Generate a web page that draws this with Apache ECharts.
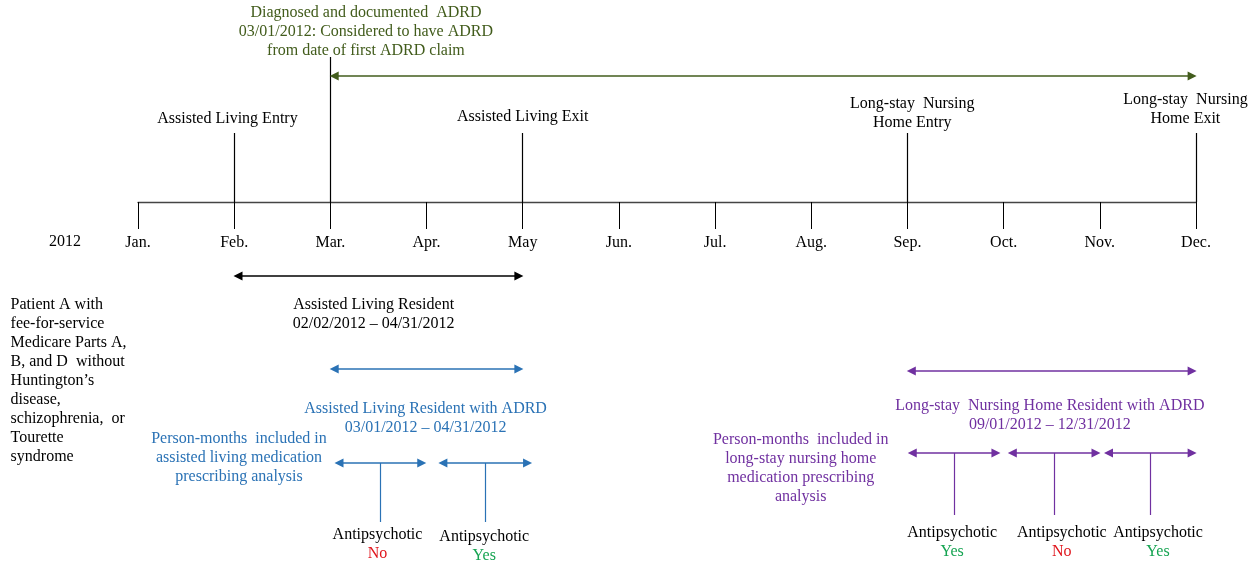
<!DOCTYPE html>
<html>
<head>
<meta charset="utf-8">
<script src="https://cdn.jsdelivr.net/npm/echarts@6/dist/echarts.min.js"></script>
<style>
  html, body { margin: 0; padding: 0; background: #fff; }
  #chart { width: 1257px; height: 567px; }
</style>
</head>
<body>
<div id="chart"></div>
<script>
// timeline data (month index: Jan = 0 ... Dec = 11)
const months = ['Jan.', 'Feb.', 'Mar.', 'Apr.', 'May', 'Jun.', 'Jul.', 'Aug.', 'Sep.', 'Oct.', 'Nov.', 'Dec.'];
const yearLabel = '2012';

const eventLabels = ['Assisted Living Entry', 'Assisted Living Exit', 'Long-stay  Nursing\nHome Entry', 'Long-stay  Nursing\nHome Exit'];
const eventMonths = [1, 4, 8, 11];

const diagnosisMonth = 2;
const followUpEnd = 11;
const diagnosisText = 'Diagnosed and documented  ADRD\n03/01/2012: Considered to have ADRD\nfrom date of first ADRD claim';

const patientText = 'Patient A with\nfee-for-service\nMedicare Parts A,\nB, and D  without\nHuntington\u2019s\ndisease,\nschizophrenia,  or\nTourette\nsyndrome';

const periodLabels = [
  'Assisted Living Resident\n02/02/2012 \u2013 04/31/2012',
  'Assisted Living Resident with ADRD\n03/01/2012 \u2013 04/31/2012',
  'Long-stay  Nursing Home Resident with ADRD\n09/01/2012 \u2013 12/31/2012'
];
const periodStart = [1, 2, 8];
const periodEnd = [4, 4, 11];

const alMonthsLabel = 'Person-months  included in\nassisted living medication\nprescribing analysis';
const alStart = [2.05, 3.13];
const alEnd = [2.99, 4.09];
const alAntipsychotic = ['No', 'Yes'];

const nhMonthsLabel = 'Person-months  included in\nlong-stay nursing home\nmedication prescribing\nanalysis';
const nhStart = [8.01, 9.05, 10.05];
const nhEnd = [8.96, 10.0, 11.0];
const nhAntipsychotic = ['Yes', 'No', 'Yes'];

// layout (vertical positions, in pixel-like units of the hidden y axis)
const FONT = '"Liberation Serif", "Times New Roman", serif';
const FS = 16;
const LH = 19;
const col = {
  black: '#000', axis: '#444', green: '#425C1C', blue: '#2A72B5',
  purple: '#7030A0', red: '#E0141B', yes: '#16A452'
};
const Y = {
  diagText: 32, diagArrow: 76, diagTop: 57, eventTop: 133, axis: 202,
  eventText: [119, 117, 113, 109], year: 242,
  periodArrow: [276, 369, 371], periodText: [314, 418, 415],
  patient: 381, alMonths: 458, nhMonths: 468,
  alArrow: 463, alStemEnd: 522, alText: 535,
  nhArrow: 453, nhStemEnd: 515, nhText: 533
};
const eventDx = [-0.07, 0, 0.05, -0.11];
const periodDx = [-0.05, -0.01, -0.02];
const tipInset = 0.04; // arrow heads are centred on the end point; pull them in so the tip lands on it

function textItem(x, y, text, color, align) {
  return {
    value: [x, y],
    label: {
      show: true,
      formatter: text,
      position: align === 'left' ? 'right' : 'inside',
      distance: 0,
      align: align || 'center',
      verticalAlign: 'middle',
      color: color,
      opacity: 1,
      textBorderWidth: 0,
      fontFamily: FONT,
      fontSize: FS,
      lineHeight: LH
    }
  };
}

function arrow(x1, x2, y, color) {
  return { coords: [[x1 + tipInset, y], [x2 - tipInset, y]], lineStyle: { color: color } };
}

function stem(x, y1, y2, color) {
  return { coords: [[x, y1], [x, y2]], lineStyle: { color: color } };
}

const texts = [];
const arrows = [];
const stems = [];

texts.push(textItem(-0.76, Y.year, yearLabel, col.black));
texts.push(textItem(diagnosisMonth + 0.37, Y.diagText, diagnosisText, col.green));
texts.push(textItem(-1.33, Y.patient, patientText, col.black, 'left'));
arrows.push(arrow(diagnosisMonth, followUpEnd, Y.diagArrow, col.green));
stems.push(stem(diagnosisMonth, Y.diagTop, Y.axis, col.black));

eventMonths.forEach(function (m, i) {
  texts.push(textItem(m + eventDx[i], Y.eventText[i], eventLabels[i], col.black));
  stems.push(stem(m, Y.eventTop, Y.axis, col.black));
});

const periodColors = [col.black, col.blue, col.purple];
periodLabels.forEach(function (t, i) {
  arrows.push(arrow(periodStart[i], periodEnd[i], Y.periodArrow[i], periodColors[i]));
  texts.push(textItem((periodStart[i] + periodEnd[i]) / 2 + periodDx[i], Y.periodText[i], t, periodColors[i]));
});

texts.push(textItem(1.05, Y.alMonths, alMonthsLabel, col.blue));
alStart.forEach(function (s, i) {
  const mid = (s + alEnd[i]) / 2;
  arrows.push(arrow(s, alEnd[i], Y.alArrow, col.blue));
  stems.push(stem(mid, Y.alArrow, Y.alStemEnd, col.blue));
  const yes = alAntipsychotic[i] === 'Yes';
  texts.push(textItem(mid - 0.03 + i * 0.02, Y.alText + i * 2, 'Antipsychotic', col.black));
  texts.push(textItem(mid - 0.03 + i * 0.02, Y.alText + 19 + i * 2, alAntipsychotic[i], yes ? col.yes : col.red));
});

texts.push(textItem(6.89, Y.nhMonths, nhMonthsLabel, col.purple));
nhStart.forEach(function (s, i) {
  const mid = (s + nhEnd[i]) / 2;
  arrows.push(arrow(s, nhEnd[i], Y.nhArrow, col.purple));
  stems.push(stem(mid, Y.nhArrow, Y.nhStemEnd, col.purple));
  const yes = nhAntipsychotic[i] === 'Yes';
  texts.push(textItem(mid + 0.1 * (i === 0 ? 0 : 1) - 0.02, Y.nhText, 'Antipsychotic', col.black));
  texts.push(textItem(mid + 0.1 * (i === 0 ? 0 : 1) - 0.02, Y.nhText + 19, nhAntipsychotic[i], yes ? col.yes : col.red));
});

const chart = echarts.init(document.getElementById('chart'), null, { renderer: 'canvas' });

const option = {
  animation: false,
  backgroundColor: '#fff',
  grid: [
    { left: 138, right: 61, top: 0, bottom: 0 },
    { left: 138, right: 61, top: 0, height: Y.axis }
  ],
  xAxis: [
    { gridIndex: 0, type: 'value', min: 0, max: 11, show: false },
    {
      gridIndex: 1, type: 'category', data: months, boundaryGap: false, position: 'bottom',
      axisLine: { lineStyle: { color: col.axis, width: 1.3 } },
      axisTick: { length: 27, alignWithLabel: true, lineStyle: { color: col.black, width: 1 } },
      axisLabel: { margin: 33, color: col.black, fontFamily: FONT, fontSize: FS, interval: 0 },
      splitLine: { show: false }
    }
  ],
  yAxis: [
    { gridIndex: 0, type: 'value', min: 0, max: 567, inverse: true, show: false },
    { gridIndex: 1, type: 'value', show: false }
  ],
  series: [
    {
      type: 'lines', coordinateSystem: 'cartesian2d', xAxisIndex: 0, yAxisIndex: 0,
      silent: true, symbol: ['none', 'none'],
      lineStyle: { width: 1.2, opacity: 1, curveness: 0 },
      data: stems
    },
    {
      type: 'lines', coordinateSystem: 'cartesian2d', xAxisIndex: 0, yAxisIndex: 0,
      silent: true, symbol: ['triangle', 'triangle'], symbolSize: 9,
      lineStyle: { width: 1.5, opacity: 1, curveness: 0 },
      data: arrows
    },
    {
      type: 'scatter', xAxisIndex: 0, yAxisIndex: 0, clip: false, silent: true,
      symbolSize: 1, itemStyle: { color: 'rgba(0,0,0,0)' },
      labelLayout: { hideOverlap: false },
      data: texts
    }
  ]
};

chart.setOption(option);
window.addEventListener('resize', function () { chart.resize(); });
</script>
</body>
</html>
